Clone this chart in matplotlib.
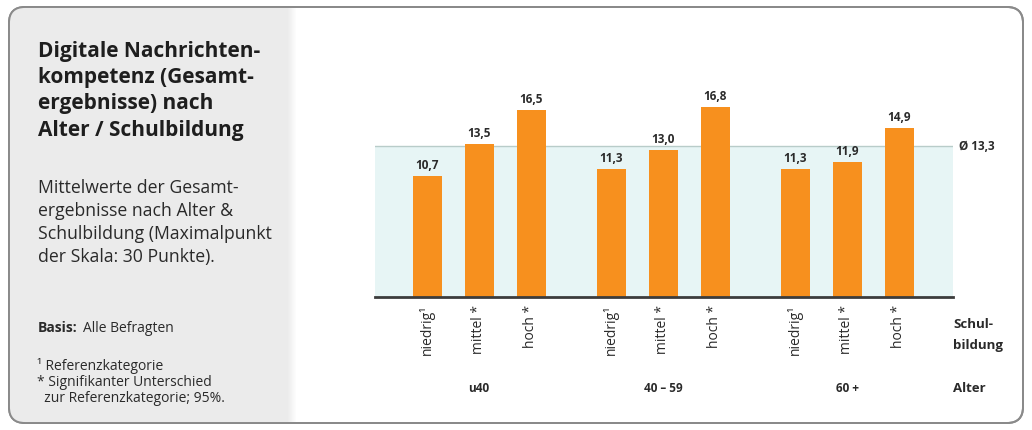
import numpy as np
import matplotlib.pyplot as plt
from matplotlib.patches import FancyBboxPatch, Rectangle

plt.rcParams['font.family'] = ['Open Sans', 'DejaVu Sans']

# data
age_groups = ['u40', '40 – 59', '60 +']
education = ['niedrig¹', 'mittel *', 'hoch *']
scores = [
    [10.7, 13.5, 16.5],
    [11.3, 13.0, 16.8],
    [11.3, 11.9, 14.9],
]
average = 13.3

W, H = 1032, 430
fig = plt.figure(figsize=(W / 100, H / 100), dpi=100)


def fx(px):
    return px / W


def fy(py):
    return 1 - py / H


# card frame and grey side panel
bg = fig.add_axes([0, 0, 1, 1])
bg.set_xlim(0, W)
bg.set_ylim(H, 0)
bg.axis('off')
card = FancyBboxPatch((9, 7), 1014, 416, boxstyle='round,pad=0,rounding_size=16',
                      facecolor='white', edgecolor='#8a8a8a', linewidth=1.4, zorder=1)
bg.add_patch(card)
panel = Rectangle((9, 7), 278, 416, facecolor='#ebebeb', edgecolor='none', zorder=2)
panel.set_clip_path(card)
bg.add_patch(panel)
# soft fade at the panel edge
for i, a in enumerate(np.linspace(1, 0, 10)):
    fade = Rectangle((287 + i, 7), 1, 416, facecolor='#ebebeb', alpha=a,
                     edgecolor='none', zorder=2)
    fade.set_clip_path(card)
    bg.add_patch(fade)
card_edge = FancyBboxPatch((9, 7), 1014, 416, boxstyle='round,pad=0,rounding_size=16',
                           facecolor='none', edgecolor='#8a8a8a', linewidth=1.4, zorder=3)
bg.add_patch(card_edge)

# left column text
title = ['Digitale Nachrichten-', 'kompetenz (Gesamt-', 'ergebnisse) nach', 'Alter / Schulbildung']
for i, line in enumerate(title):
    fig.text(fx(38), fy(51 + i * 26.5), line, fontsize=15, fontweight='bold',
             color='#1e1e1e', va='center', ha='left')

subtitle = ['Mittelwerte der Gesamt-', 'ergebnisse nach Alter &',
            'Schulbildung (Maximalpunkt', 'der Skala: 30 Punkte).']
for i, line in enumerate(subtitle):
    fig.text(fx(38), fy(188 + i * 23), line, fontsize=12.7, color='#2a2a2a',
             va='center', ha='left')

fig.text(fx(38), fy(328), 'Basis:', fontsize=10, fontweight='bold', color='#2a2a2a',
         va='center', ha='left')
fig.text(fx(83), fy(328), 'Alle Befragten', fontsize=10, color='#2a2a2a',
         va='center', ha='left')
notes = ['¹ Referenzkategorie', '* Signifikanter Unterschied', '  zur Referenzkategorie; 95%.']
for i, line in enumerate(notes):
    fig.text(fx(37), fy(366 + i * 16), line, fontsize=10, color='#2a2a2a',
             va='center', ha='left')

# bar chart
step, gap = 52, 80
x_left, x_right, y_base, y_top = 375, 953, 297, 80
px_per_unit = 11.33
ax = fig.add_axes([fx(x_left), fy(y_base), (x_right - x_left) / W, (y_base - y_top) / H])
ax.set_xlim((x_left - 427) / step, (x_right - 427) / step)
ax.set_ylim(0, (y_base - y_top) / px_per_unit)
ax.axis('off')

group_offset = (2 * step + gap) / step
positions = []
for g, vals in enumerate(scores):
    for i, v in enumerate(vals):
        positions.append(g * group_offset + i)
values = [v for vals in scores for v in vals]

ax.axhspan(0, average, color='#e7f5f5', zorder=0, linewidth=0)
ax.axhline(average, color='#b8ccc9', linewidth=1.0, zorder=1)
ax.bar(positions, values, width=29 / step, color='#f7901e', zorder=2)
ax.axhline(0, color='#3c3c3c', linewidth=2, zorder=3, clip_on=False)

for p, v in zip(positions, values):
    ax.text(p, v + 0.35, f'{v:.1f}'.replace('.', ','), ha='center', va='bottom',
            fontsize=8.5, fontweight='bold', color='#2a2a2a')

ax.text(1.0, average, '  Ø 13,3', transform=ax.get_yaxis_transform(), ha='left',
        va='center', fontsize=8.5, fontweight='bold', color='#2a2a2a')

# category labels under the axis
for g in range(len(age_groups)):
    for i, lab in enumerate(education):
        p = g * group_offset + i
        ax.annotate(lab, xy=(p, 0), xycoords='data', xytext=(0, -8),
                    textcoords='offset pixels', rotation=90, ha='center', va='top',
                    fontsize=10, color='#2a2a2a')
    ax.annotate(age_groups[g], xy=(g * group_offset + 1, 0), xycoords='data',
                xytext=(0, -92), textcoords='offset pixels', ha='center', va='center',
                fontsize=8.5, fontweight='bold', color='#2a2a2a')

for text, py in [('Schul-', 325), ('bildung', 345), ('Alter', 389)]:
    fig.text(fx(953), fy(py), text, fontsize=9.5, fontweight='bold', color='#2a2a2a',
             va='center', ha='left')

fig.savefig('out.png', dpi=100)
